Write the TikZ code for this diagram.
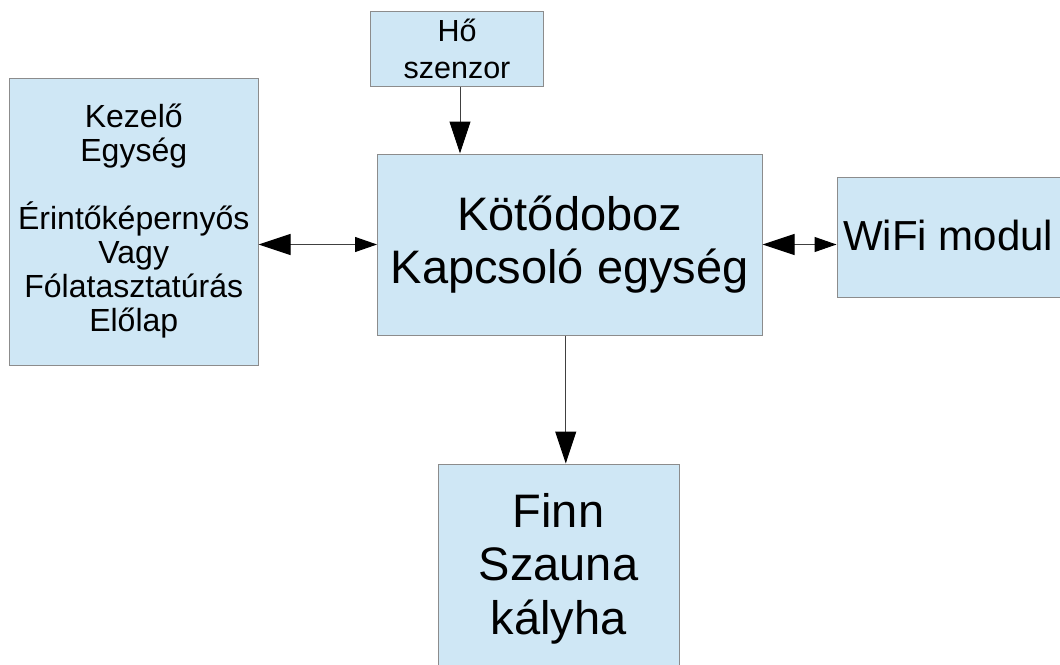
\documentclass[tikz,border=0pt]{standalone}
\usepackage{fontspec}
\setmainfont{Liberation Sans}
\usetikzlibrary{arrows.meta}
\definecolor{boxfill}{HTML}{CFE7F5}
\definecolor{boxline}{HTML}{8C8C8C}
\definecolor{conline}{HTML}{404040}
\tikzset{
  blk/.style={draw=boxline, line width=1pt, fill=boxfill, rectangle, inner sep=0pt, align=center},
  smalltxt/.style={font=\fontsize{32}{34}\selectfont},
  hotxt/.style={font=\fontsize{30.5}{37}\selectfont},
  bigtxt/.style={font=\fontsize{47}{53.5}\selectfont},
  midtxt/.style={font=\fontsize{42}{48}\selectfont},
  conn/.style={draw=conline, line width=1pt},
  bighead/.tip={Triangle[length=32pt,width=21pt,color=black]},
  smallhead/.tip={Triangle[length=22pt,width=15pt,color=black]}
}
\begin{document}
\begin{tikzpicture}[x=1pt,y=-1pt]
\useasboundingbox (0,0) rectangle (1060,664);
\clip (0,0) rectangle (1060,664);
\fill[white] (0,0) rectangle (1060,664);
\node[blk, smalltxt, minimum width=248.5pt, minimum height=287pt] (ke) at (133.75,221.5)
  {Kezelő\\Egység\\~\\Érintőképernyős\\Vagy\\Fólatasztatúrás\\Előlap};
\node[blk, hotxt, minimum width=173pt, minimum height=75pt] (hs) at (457,48.5)
  {Hő\\szenzor};
\node[blk, bigtxt, minimum width=384.5pt, minimum height=181pt] (kd) at (569.75,244.5)
  {Kötődoboz\\Kapcsoló egység};
\node[blk, minimum width=240pt, minimum height=120pt] (wf) at (957,237) {};
\node[midtxt, anchor=base west, inner sep=0pt] (wft) at (843,250) {WiFi modul};
\node[blk, minimum width=241pt, minimum height=216pt] (fs) at (558.5,572) {};
\node[bigtxt, align=center, inner sep=0pt, anchor=north] (fst) at (558.5,493) {Finn\\Szauna\\kályha};
\draw[conn, -bighead] ([xshift=3pt]hs.south) -- ([xshift=3pt]hs.south |- kd.north);
\draw[conn, bighead-smallhead] (ke.east |- kd.west) -- (kd.west);
\draw[conn, bighead-smallhead] (kd.east) -- (wf.west |- kd.east);
\draw[conn, -bighead] ([xshift=-4pt]kd.south) -- ([xshift=-4pt]kd.south |- fs.north);
\end{tikzpicture}
\end{document}
